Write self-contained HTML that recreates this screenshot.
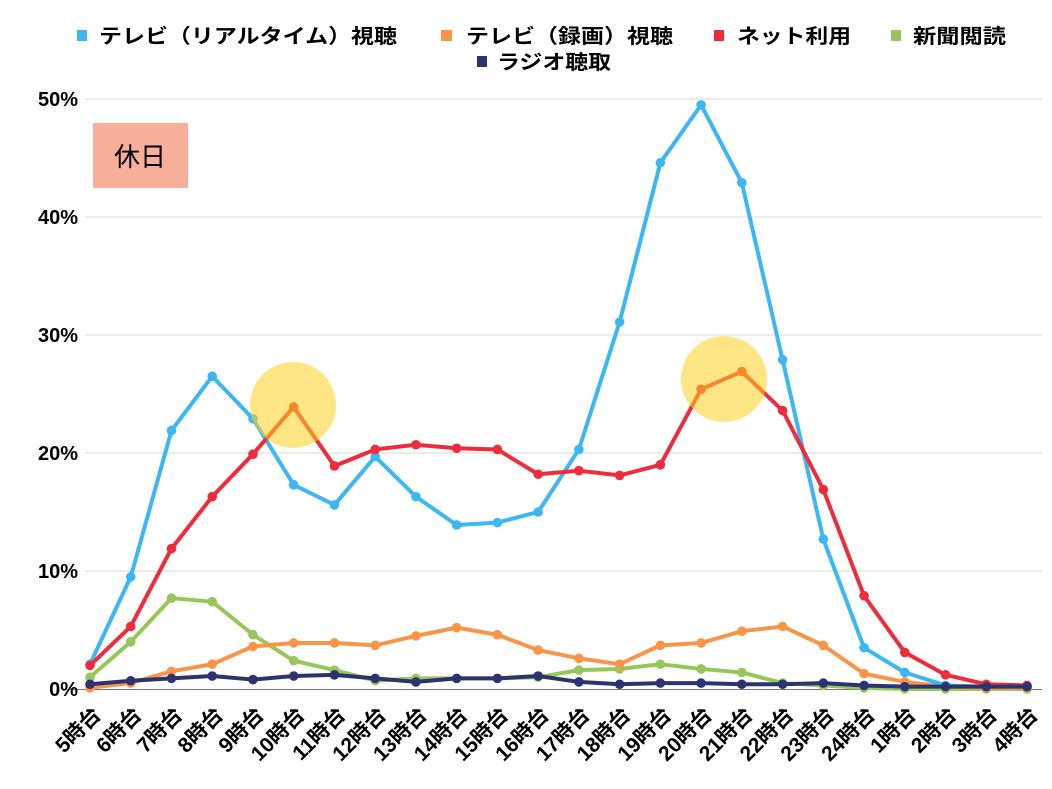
<!DOCTYPE html>
<html><head><meta charset="utf-8"><style>
body{margin:0;background:#fff;}
svg{display:block;font-family:"Liberation Sans","Noto Sans CJK JP",sans-serif;}
</style></head><body>
<svg id="c" width="1052" height="789" viewBox="0 0 1052 789" xmlns="http://www.w3.org/2000/svg">
<g stroke="#d9d9d9" stroke-width="1">
<line x1="85" x2="1042" y1="99" y2="99"/><line x1="85" x2="1042" y1="217" y2="217"/>
<line x1="85" x2="1042" y1="335" y2="335"/><line x1="85" x2="1042" y1="453" y2="453"/>
<line x1="85" x2="1042" y1="571" y2="571"/>
</g>
<line x1="70" x2="1042" y1="689.5" y2="689.5" stroke="#777" stroke-width="1"/>
<g font-size="20" font-weight="bold" fill="#000" text-anchor="end">
<text x="78" y="106">50%</text><text x="78" y="224">40%</text><text x="78" y="342">30%</text>
<text x="78" y="460">20%</text><text x="78" y="578">10%</text><text x="78" y="696">0%</text>
</g>
<rect x="93" y="123" width="95" height="65" fill="#F9AE9A"/>
<text x="140" y="166" font-size="26" text-anchor="middle" fill="#000">休日</text>
<g font-size="20" font-weight="bold" fill="#000">
<rect x="77" y="30" width="10" height="11" fill="#3DB6F5"/><text x="99" y="43" textLength="298" lengthAdjust="spacingAndGlyphs">テレビ（リアルタイム）視聴</text>
<rect x="441" y="30" width="11" height="11" fill="#FA9447"/><text x="466" y="43" textLength="207" lengthAdjust="spacingAndGlyphs">テレビ（録画）視聴</text>
<rect x="714" y="30" width="10" height="11" fill="#EE2C3C"/><text x="737" y="43" textLength="114" lengthAdjust="spacingAndGlyphs">ネット利用</text>
<rect x="891" y="30" width="10" height="11" fill="#97C65A"/><text x="913" y="43" textLength="93" lengthAdjust="spacingAndGlyphs">新聞閲読</text>
<rect x="477" y="56" width="10" height="11" fill="#2B3470"/><text x="497" y="69" textLength="114" lengthAdjust="spacingAndGlyphs">ラジオ聴取</text>
</g>
<g id="series"></g>
<circle cx="293" cy="405" r="43" fill="#FFD21F" opacity="0.55"/>
<circle cx="724" cy="379" r="43" fill="#FFD21F" opacity="0.55"/>
<g id="xl" font-size="21" font-weight="bold" fill="#000"></g>
</svg>
<script>
const X=i=>90+40.74*i, Y=v=>689-v*11.8;
const S=[
["#97C65A",[1.0,4.0,7.7,7.4,4.6,2.4,1.6,0.7,0.9,0.9,0.9,1.0,1.6,1.7,2.1,1.7,1.4,0.5,0.3,0.1,0,0,0,0]],
["#FA9447",[0.1,0.5,1.5,2.1,3.6,3.9,3.9,3.7,4.5,5.2,4.6,3.3,2.6,2.1,3.7,3.9,4.9,5.3,3.7,1.3,0.6,0.2,0.1,0.1]],
["#3DB6F5",[2.1,9.5,21.9,26.5,22.9,17.3,15.6,19.7,16.3,13.9,14.1,15.0,20.3,31.1,44.6,49.5,42.9,27.9,12.7,3.5,1.4,0.3,0.2,0.2]],
["#EE2C3C",[2.0,5.3,11.9,16.3,19.9,23.9,18.9,20.3,20.7,20.4,20.3,18.2,18.5,18.1,19.0,25.4,26.9,23.6,16.9,7.9,3.1,1.2,0.4,0.3]],
["#2B3470",[0.4,0.7,0.9,1.1,0.8,1.1,1.2,0.9,0.6,0.9,0.9,1.1,0.6,0.4,0.5,0.5,0.4,0.4,0.5,0.3,0.2,0.2,0.2,0.2]]];
let h="";
for(const [c,d] of S){h+=`<polyline fill="none" stroke="${c}" stroke-width="4" stroke-linejoin="round" points="${d.map((v,i)=>X(i)+','+Y(v)).join(' ')}"/>`;
for(let i=0;i<d.length;i++)h+=`<circle cx="${X(i)}" cy="${Y(d[i])}" r="4.8" fill="${c}"/>`;}
document.getElementById('series').innerHTML=h;
const L=["5","6","7","8","9","10","11","12","13","14","15","16","17","18","19","20","21","22","23","24","1","2","3","4"];
let t="";L.forEach((l,i)=>{const x=X(i)+12,y=716;t+=`<text text-anchor="end" transform="translate(${x},${y}) rotate(-45)">${l}時台</text>`;});
document.getElementById('xl').innerHTML=t;
</script>
</body></html>
